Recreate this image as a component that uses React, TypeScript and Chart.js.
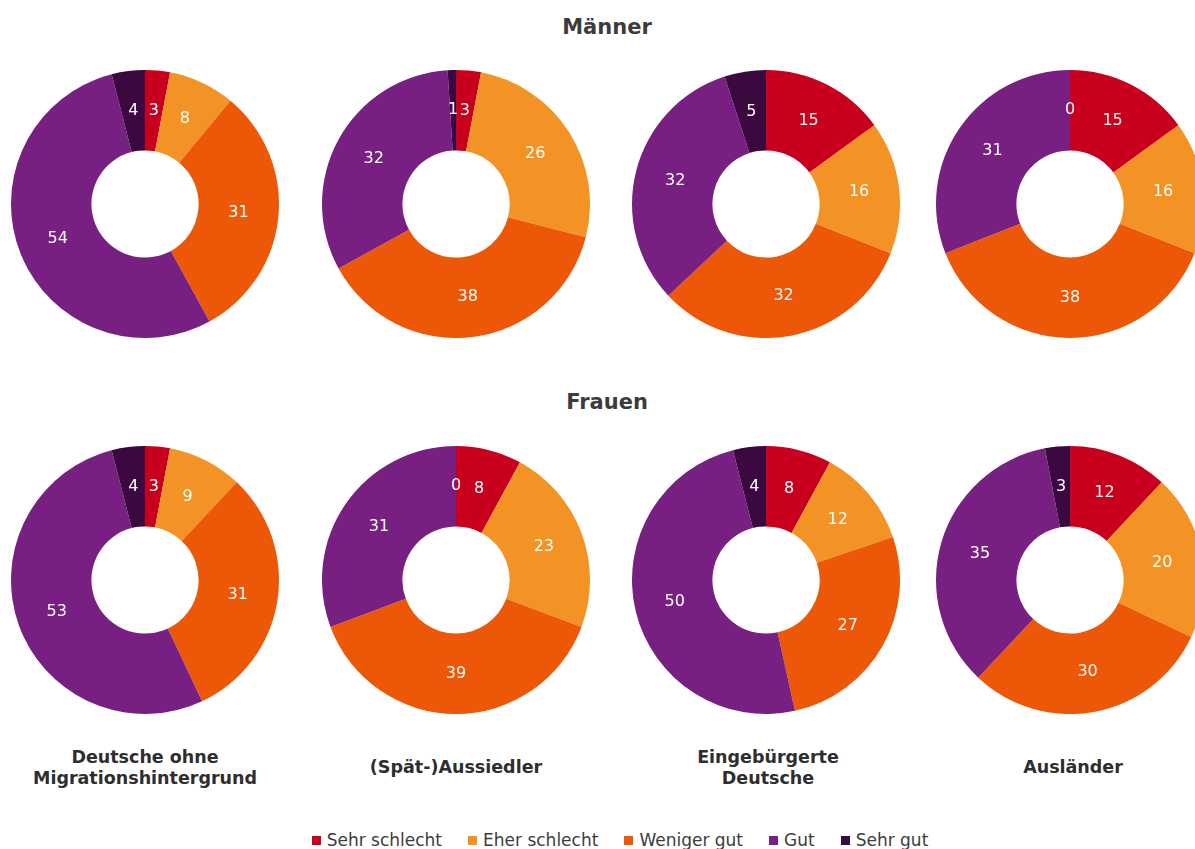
import React, { useEffect, useRef } from "react";
import { Chart, registerables } from "chart.js";

Chart.register(...registerables);

const levels = ["Sehr schlecht", "Eher schlecht", "Weniger gut", "Gut", "Sehr gut"];
const levelColors = ["#C8001E", "#F39325", "#EC5708", "#782082", "#3B0840"];
const groups = [
  ["Deutsche ohne", "Migrationshintergrund"],
  ["(Spät-)Aussiedler"],
  ["Eingebürgerte", "Deutsche"],
  ["Ausländer"],
];
const rowTitles = ["Männer", "Frauen"];

const maennerDeutsche = [3, 8, 31, 54, 4];
const maennerAussiedler = [3, 26, 38, 32, 1];
const maennerEingebuergerte = [15, 16, 32, 32, 5];
const maennerAuslaender = [15, 16, 38, 31, 0];

const frauenDeutsche = [3, 9, 31, 53, 4];
const frauenAussiedler = [8, 23, 39, 31, 0];
const frauenEingebuergerte = [8, 12, 27, 50, 4];
const frauenAuslaender = [12, 20, 30, 35, 3];

const rows = [
  [maennerDeutsche, maennerAussiedler, maennerEingebuergerte, maennerAuslaender],
  [frauenDeutsche, frauenAussiedler, frauenEingebuergerte, frauenAuslaender],
];

const colCenters = [145, 456, 766, 1070];
const labelCenters = [145, 456, 768, 1073];
const rowCenters = [204, 580];
const SIZE = 268;

const valueLabels = {
  id: "valueLabels",
  afterDatasetsDraw(chart: any) {
    const ctx = chart.ctx;
    const meta = chart.getDatasetMeta(0);
    const data = chart.data.datasets[0].data;
    ctx.save();
    ctx.fillStyle = "#ffffff";
    ctx.font = '16px "DejaVu Sans"';
    ctx.textAlign = "center";
    ctx.textBaseline = "middle";
    meta.data.forEach((arc: any, i: number) => {
      const p = arc.getCenterPoint();
      ctx.fillText(String(data[i]), p.x, p.y);
    });
    ctx.restore();
  },
};

function Donut({ values }: { values: number[] }) {
  const ref = useRef<HTMLCanvasElement>(null);
  useEffect(() => {
    if (!ref.current) return;
    const chart = new Chart(ref.current, {
      type: "doughnut",
      data: {
        labels: levels,
        datasets: [
          {
            data: values,
            backgroundColor: levelColors,
            borderWidth: 0,
          },
        ],
      },
      options: {
        responsive: false,
        animation: false,
        cutout: "40%",
        layout: { padding: 0 },
        plugins: { legend: { display: false }, tooltip: { enabled: false } },
      },
      plugins: [valueLabels],
    });
    return () => chart.destroy();
  }, [values]);
  return <canvas ref={ref} width={SIZE} height={SIZE} style={{ width: SIZE, height: SIZE }} />;
}

export default function App() {
  const textColor = "#3c3c3c";
  return (
    <div
      style={{
        position: "fixed",
        left: 0,
        top: 0,
        width: 1195,
        height: 849,
        overflow: "hidden",
        background: "#fff",
        fontFamily: '"DejaVu Sans", Verdana, sans-serif',
      }}
    >
      {rowTitles.map((t, r) => (
        <div
          key={t}
          style={{
            position: "absolute",
            left: 0,
            width: 1214,
            top: r === 0 ? 14 : 389,
            textAlign: "center",
            fontWeight: "bold",
            fontSize: 21,
            lineHeight: "26px",
            color: textColor,
          }}
        >
          {t}
        </div>
      ))}
      {rows.map((row, r) =>
        row.map((vals, c) => (
          <div
            key={`${r}-${c}`}
            style={{
              position: "absolute",
              left: colCenters[c] - SIZE / 2,
              top: rowCenters[r] - SIZE / 2,
              width: SIZE,
              height: SIZE,
            }}
          >
            <Donut values={vals} />
          </div>
        ))
      )}
      {groups.map((g, c) => (
        <div
          key={c}
          style={{
            position: "absolute",
            left: labelCenters[c] - 150,
            width: 300,
            top: g.length === 2 ? 747 : 757,
            textAlign: "center",
            fontWeight: "bold",
            fontSize: 17.5,
            lineHeight: "21px",
            color: "#2e2e2e",
          }}
        >
          {g.map((line) => (
            <div key={line}>{line}</div>
          ))}
        </div>
      ))}
      <div
        style={{
          position: "absolute",
          left: 0,
          width: 1240,
          top: 830,
          display: "flex",
          justifyContent: "center",
          gap: 26,
          fontSize: 17,
          color: textColor,
          lineHeight: "21px",
        }}
      >
        {levels.map((l, i) => (
          <div key={l} style={{ display: "flex", alignItems: "center" }}>
            <span
              style={{
                display: "inline-block",
                width: 9,
                height: 9,
                background: levelColors[i],
                marginRight: 6,
              }}
            />
            <span>{l}</span>
          </div>
        ))}
      </div>
    </div>
  );
}
